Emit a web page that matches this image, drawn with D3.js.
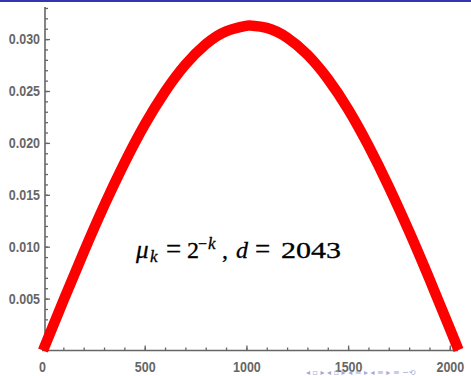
<!DOCTYPE html>
<html>
<head>
<meta charset="utf-8">
<script src="https://cdn.jsdelivr.net/npm/d3@7"></script>
<style>
  html, body { margin: 0; padding: 0; background: #fff; }
  svg { display: block; }
  .tick text { font-family: "Liberation Sans", Arial, sans-serif; font-weight: bold; }
</style>
</head>
<body>
<script>
// Sampled values of the curve (index k, value)
const kValues = [0, 100, 200, 300, 400, 500, 600, 700, 800, 900, 1000, 1022,
                 1100, 1200, 1300, 1400, 1500, 1600, 1700, 1800, 1900, 2000, 2043];
const curveValues = [0.00000, 0.00479, 0.00947, 0.01393, 0.01805, 0.02176, 0.02493,
                     0.02754, 0.02950, 0.03075, 0.03128, 0.03130, 0.03108, 0.03015,
                     0.02850, 0.02618, 0.02325, 0.01974, 0.01578, 0.01147, 0.00688,
                     0.00211, 0.00005];
const xTickLabels = [0, 500, 1000, 1500, 2000];
const yTickLabels = [0.005, 0.010, 0.015, 0.020, 0.025, 0.030];

const W = 471, H = 376;
const axisColor = "#666666";

const svg = d3.select("body").append("svg")
  .attr("width", W).attr("height", H);

// slide frame rule at the top
svg.append("rect").attr("x", 0).attr("y", 0).attr("width", W).attr("height", 2)
  .attr("fill", "#3434b0");

const x = d3.scaleLinear().domain([0, 2000]).range([43, 449.8]);
const y = d3.scaleLinear().domain([0, 0.03]).range([350.5, 39.1]);

const axisX0 = 45;        // vertical axis position
const axisY0 = y(0);

// narrow the bold tick labels horizontally
function condense(sel) {
  sel.each(function () {
    const w = this.getComputedTextLength();
    d3.select(this).attr("textLength", w * 0.83).attr("lengthAdjust", "spacingAndGlyphs");
  });
}

// ---- y axis ----
const gy = svg.append("g").attr("transform", `translate(${axisX0},0)`);
gy.call(d3.axisLeft(y).tickValues(d3.range(1, 34).map(i => i * 0.001))
  .tickSize(-3).tickFormat(""));
gy.call(g => g.select(".domain").remove());
const gyMaj = svg.append("g").attr("transform", `translate(${axisX0},0)`);
gyMaj.call(d3.axisLeft(y).tickValues(yTickLabels).tickSize(-5).tickPadding(5)
  .tickFormat(d3.format(".3f")));
gyMaj.call(g => g.select(".domain").remove());
[gy, gyMaj].forEach(g => {
  g.selectAll("line").attr("stroke", axisColor).attr("stroke-width", 1.3);
  g.selectAll("text").attr("fill", axisColor).attr("font-size", 15);
});
svg.append("line").attr("x1", axisX0).attr("x2", axisX0)
  .attr("y1", axisY0).attr("y2", y(0.0331))
  .attr("stroke", axisColor).attr("stroke-width", 1.6);

// ---- x axis ----
const gx = svg.append("g").attr("transform", `translate(0,${axisY0})`);
gx.call(d3.axisBottom(x).tickValues(d3.range(1, 21).map(i => i * 100))
  .tickSize(-3).tickFormat(""));
gx.call(g => g.select(".domain").remove());
const gxMaj = svg.append("g").attr("transform", `translate(0,${axisY0})`);
gxMaj.call(d3.axisBottom(x).tickValues(xTickLabels).tickSize(-5).tickPadding(11)
  .tickFormat(d3.format("d")));
gxMaj.call(g => g.select(".domain").remove());
gxMaj.selectAll(".tick").filter(d => d === 0).select("line").remove();
gxMaj.selectAll(".tick").filter(d => d === 0).select("text").attr("dx", -1);
[gx, gxMaj].forEach(g => {
  g.selectAll("line").attr("stroke", axisColor).attr("stroke-width", 1.3);
  g.selectAll("text").attr("fill", axisColor).attr("font-size", 15);
});
condense(gyMaj.selectAll("text"));
condense(gxMaj.selectAll("text"));
svg.append("line").attr("x1", 42).attr("x2", x(2041))
  .attr("y1", axisY0).attr("y2", axisY0)
  .attr("stroke", axisColor).attr("stroke-width", 1.6);

// ---- data curve ----
const pts = kValues.map((k, i) => [k, curveValues[i]]);
const line = d3.line().x(d => x(d[0])).y(d => y(d[1])).curve(d3.curveNatural);
svg.append("path").attr("d", line(pts))
  .attr("fill", "none").attr("stroke", "#ff0000")
  .attr("stroke-width", 10.5).attr("stroke-linejoin", "round");

// ---- annotation: μ_k = 2^{-k},  d = 2043 ----
const ann = svg.append("g")
  .attr("font-family", "'Liberation Serif', 'DejaVu Serif', serif")
  .attr("fill", "#000").attr("stroke", "#000").attr("stroke-width", 0.3);
const base = 258;
const pieces = [
  { t: "μ", x: 136, dy: 0, fs: 25, it: true },
  { t: "k", x: 150, dy: 4, fs: 17, it: true },
  { t: "=", x: 166, dy: 0, fs: 27, it: false },
  { t: "2", x: 187, dy: 0, fs: 24, it: false },
  { t: "−", x: 198, dy: -9, fs: 16, it: false },
  { t: "k", x: 208, dy: -9, fs: 17, it: true },
  { t: ",", x: 222, dy: 0, fs: 24, it: false },
  { t: "d", x: 236, dy: 0, fs: 24, it: true },
  { t: "=", x: 255, dy: 0, fs: 27, it: false },
  { t: "2043", x: 281, dy: 0, fs: 24, it: false, len: 60 }
];
pieces.forEach(p => {
  const t = ann.append("text").attr("x", p.x).attr("y", base + p.dy)
    .attr("font-size", p.fs).attr("font-style", p.it ? "italic" : "normal").text(p.t);
  if (p.len) t.attr("textLength", p.len).attr("lengthAdjust", "spacingAndGlyphs");
});

// ---- navigation symbols ----
svg.append("text").attr("x", 306).attr("y", 375)
  .attr("font-family", "'DejaVu Sans', sans-serif").attr("font-size", 8)
  .attr("fill", "#a8a8d8")
  .text("◂ ▫ ▸  ◂ ▫ ▸  ◂ ≡ ▸  ◂ ≡ ▸   ≡  ∽⟲");
</script>
</body>
</html>
